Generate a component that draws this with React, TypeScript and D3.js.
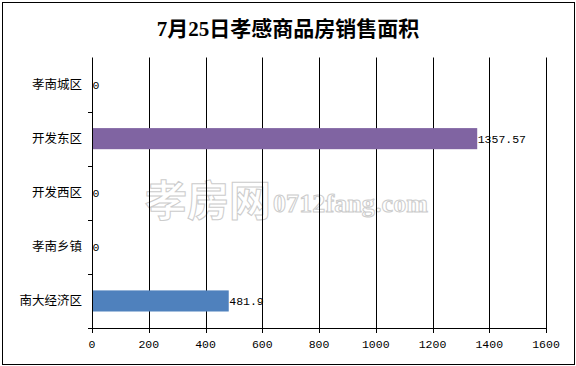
import * as d3 from "d3";
import React from "react";

const categories = ["孝南城区", "开发东区", "开发西区", "孝南乡镇", "南大经济区"];
const areas = [0, 1357.57, 0, 0, 481.9];
const areaLabels = ["0", "1357.57", "0", "0", "481.9"];
const barColors = ["#8064A2", "#8064A2", "#8064A2", "#8064A2", "#4F81BD"];
const xTicks = [0, 200, 400, 600, 800, 1000, 1200, 1400, 1600];

const W = 576;
const H = 366;
const left = 92;
const right = 546;
const top = 57.5;
const bottom = 328;

const App = () => {
  const x = d3.scaleLinear().domain([0, 1600]).range([left, right]);
  const y = d3.scaleBand<string>().domain(categories).range([top, bottom]).paddingInner(0.61).paddingOuter(0.305);
  const band = (bottom - top) / categories.length;
  const mono = "'Liberation Mono', 'DejaVu Sans Mono', monospace";
  const cjk = "'Noto Sans CJK SC', 'Noto Sans', sans-serif";

  return (
    <svg width={W} height={H} style={{ position: "absolute", left: 0, top: 0, background: "#fff" }}>
      <rect x={2.5} y={2.5} width={572} height={362} fill="#fff" stroke="#000" strokeWidth={1} />
      <text x={288} y={36} textAnchor="middle" fontFamily={"'Liberation Serif', " + cjk} fontWeight="bold" fontSize={21} fill="#000">
        7月25日孝感商品房销售面积
      </text>

      {/* watermark */}
      <g fill="#fff" stroke="#cccccc" strokeWidth={1}>
        <text x={145} y={216} fontFamily={cjk} fontSize={42} fontWeight="bold" letterSpacing={0}>孝房网</text>
        <text x={273} y={212} fontFamily="'Liberation Serif', serif" fontSize={26} fontWeight="bold" textLength={155}>0712fang.com</text>
      </g>

      {/* grid */}
      {xTicks.map((t) => (
        <line key={t} x1={Math.round(x(t)) + 0.5} x2={Math.round(x(t)) + 0.5} y1={top} y2={bottom + 5} stroke="#000" />
      ))}
      <line x1={88} x2={right + 0.5} y1={bottom + 0.5} y2={bottom + 0.5} stroke="#000" />
      {categories.map((c, i) => (
        <line key={c} x1={88} x2={left} y1={Math.round(top + band * (i + 1)) + 0.5} y2={Math.round(top + band * (i + 1)) + 0.5} stroke="#000" />
      ))}

      {xTicks.map((t) => (
        <text key={t} x={x(t)} y={347.5} textAnchor="middle" fontFamily={mono} fontSize={11.5} fill="#000">
          {t}
        </text>
      ))}

      {categories.map((c, i) => (
        <g key={c}>
          <text x={82} y={(y(c) ?? 0) + y.bandwidth() / 2 + 4.5} textAnchor="end" fontFamily={cjk} fontSize={12.5} fill="#000">
            {c}
          </text>
          {areas[i] > 0 && (
            <rect x={x(0) + 1} y={y(c)} width={x(areas[i]) - x(0) - 1} height={y.bandwidth()} fill={barColors[i]} />
          )}
          <text x={x(areas[i]) + 0.5} y={(y(c) ?? 0) + y.bandwidth() / 2 + 4} fontFamily={mono} fontSize={11.5} fill="#000">
            {areaLabels[i]}
          </text>
        </g>
      ))}
    </svg>
  );
};

export default App;
